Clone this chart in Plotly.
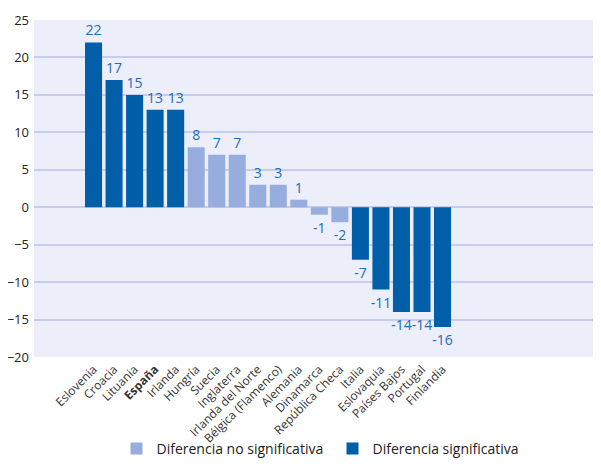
import plotly.graph_objects as go

countries = ["Eslovenia", "Croacia", "Lituania", "España", "Irlanda", "Hungría",
             "Suecia", "Inglaterra", "Irlanda del Norte", "Bélgica (Flamenco)",
             "Alemania", "Dinamarca", "República Checa", "Italia", "Eslovaquia",
             "Países Bajos", "Portugal", "Finlandia"]
values = [22, 17, 15, 13, 13, 8, 7, 7, 3, 3, 1, -1, -2, -7, -11, -14, -14, -16]
significant = [True, True, True, True, True, False, False, False, False, False,
               False, False, False, True, True, True, True, True]
y_ticks = [-20, -15, -10, -5, 0, 5, 10, 15, 20, 25]

DARK = "#005FA8"
LIGHT = "#97ADDD"
LABEL = "#1C6CB6"

tick_text = ["<b>España</b>" if c == "España" else c for c in countries]

fig = go.Figure()

for name, flag, color in [("Diferencia no significativa", False, LIGHT),
                          ("Diferencia significativa", True, DARK)]:
    xs = [c for c, s in zip(countries, significant) if s == flag]
    ys = [v for v, s in zip(values, significant) if s == flag]
    fig.add_trace(go.Bar(
        x=xs, y=ys, name=name,
        marker=dict(color=color, line=dict(width=0)),
        width=0.83,
        text=[str(v) for v in ys],
        textposition="outside",
        constraintext="none",
        textfont=dict(size=14, color=LABEL),
        cliponaxis=False,
    ))

# page body has an 8px margin, so the figure is sized to fit inside it
fig.update_layout(
    barmode="overlay",
    width=585, height=450,
    margin=dict(l=26, r=0, t=12, b=101),
    plot_bgcolor="#ECEEFA",
    paper_bgcolor="white",
    font=dict(family="Open Sans", color="#222222"),
    xaxis=dict(
        type="category",
        categoryorder="array", categoryarray=countries,
        tickvals=countries, ticktext=tick_text,
        tickangle=-45,
        tickfont=dict(size=12, color="#333333"),
        range=[-2.9, 24.33],
        showgrid=False, zeroline=False, ticks="",
        ticklabelstandoff=2,
        automargin=False,
    ),
    yaxis=dict(
        range=[-20, 25],
        tickvals=y_ticks,
        tickfont=dict(size=13, color="#222222"),
        showgrid=True, gridcolor="#C6CCEE", gridwidth=2,
        zeroline=True, zerolinecolor="#C6CCEE", zerolinewidth=2,
        ticks="", ticklabelstandoff=4,
        automargin=False,
    ),
    legend=dict(
        orientation="h",
        x=0.1476, xanchor="left",
        yref="container", y=0.02, yanchor="middle",
        font=dict(size=14, color="#222222"),
        entrywidth=171,
        traceorder="normal",
        bgcolor="rgba(0,0,0,0)",
    ),
)

fig.write_html("out.html")
